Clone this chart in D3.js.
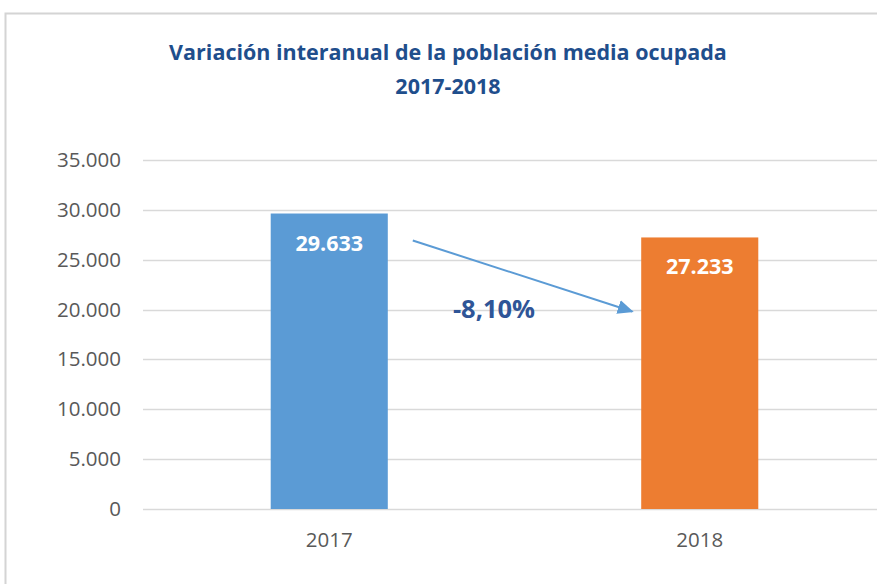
<!DOCTYPE html>
<html>
<head>
<meta charset="utf-8">
<script src="https://cdn.jsdelivr.net/npm/d3@7"></script>
<style>
  body { margin: 0; background: #fff; }
  svg { display: block; }
  text { font-family: "Open Sans", "Noto Sans", sans-serif; }
</style>
</head>
<body>
<div id="chart"></div>
<script>
const titleLines = ['Variación interanual de la población media ocupada', '2017-2018'];
const categories = ['2017', '2018'];
const values = [29633, 27233];
const barColors = ['#5B9BD5', '#ED7D31'];
const yTicks = [0, 5000, 10000, 15000, 20000, 25000, 30000, 35000];

const width = 877, height = 584;
const es = d3.formatLocale({decimal: ',', thousands: '.', grouping: [3], currency: ['', ' €'], minus: '-'});
const fmtNum = es.format(',d');
const fmtPct = es.format('.2%');

let svg = d3.select('#chart').append('svg')
    .attr('width', width)
    .attr('height', height);

// chart frame (only top + left visible in the crop)
svg.append('path')
    .attr('d', `M5.5,${height} V13.5 H${width}`)
    .attr('fill', 'none')
    .attr('stroke', '#d4d4d4')
    .attr('stroke-width', 2);

// title
svg.append('g').selectAll('text')
    .data(titleLines)
    .join('text')
    .attr('x', 448)
    .attr('y', (d, i) => 60 + i * 34)
    .attr('text-anchor', 'middle')
    .attr('font-size', 21.5)
    .attr('font-weight', 'bold')
    .attr('fill', '#1F4E8C')
    .text(d => d);

let x = d3.scaleBand()
    .domain(categories)
    .range([144, 885])
    .padding(0);
let y = d3.scaleLinear()
    .domain([0, 35000])
    .range([509, 160]);

const barW = x.bandwidth() * 0.316;

// gridlines
svg.append('g').selectAll('line')
    .data(yTicks)
    .join('line')
    .attr('x1', 143)
    .attr('x2', width)
    .attr('y1', d => Math.round(y(d)) + 0.5)
    .attr('y2', d => Math.round(y(d)) + 0.5)
    .attr('stroke', '#d9d9d9')
    .attr('stroke-width', 1.5);

// y axis labels
let yAxis = d3.axisLeft(y).tickValues(yTicks).tickFormat(d => fmtNum(d)).tickSize(0).tickPadding(0);
let gy = svg.append('g').attr('transform', 'translate(121,0)').call(yAxis);
gy.select('.domain').remove();
gy.selectAll('text')
    .attr('font-family', '"Open Sans", sans-serif')
    .attr('font-size', 20.5)
    .attr('fill', '#595959');

// x axis labels
let xAxis = d3.axisBottom(x).tickSize(0).tickPadding(0);
let gx = svg.append('g').attr('transform', 'translate(0,532)').call(xAxis);
gx.select('.domain').remove();
gx.selectAll('text')
    .attr('font-family', '"Open Sans", sans-serif')
    .attr('font-size', 20.5)
    .attr('fill', '#595959');

// bars
let cx = d => x(d) + x.bandwidth() / 2;
svg.append('g').selectAll('rect')
    .data(categories)
    .join('rect')
    .attr('x', d => cx(d) - barW / 2)
    .attr('y', (d, i) => y(values[i]))
    .attr('width', barW)
    .attr('height', (d, i) => y(0) - y(values[i]))
    .attr('fill', (d, i) => barColors[i]);

// value labels
svg.append('g').selectAll('text')
    .data(categories)
    .join('text')
    .attr('x', d => cx(d))
    .attr('y', (d, i) => y(values[i]) + 37)
    .attr('text-anchor', 'middle')
    .attr('font-size', 21.5)
    .attr('font-weight', 'bold')
    .attr('fill', '#fff')
    .text((d, i) => fmtNum(values[i]));

// change arrow
let defs = svg.append('defs');
defs.append('marker')
    .attr('id', 'arrowHead')
    .attr('viewBox', '0 0 10 10')
    .attr('refX', 9)
    .attr('refY', 5)
    .attr('markerWidth', 8)
    .attr('markerHeight', 8)
    .attr('markerUnits', 'strokeWidth')
    .attr('orient', 'auto')
    .append('path')
    .attr('d', 'M0,0.5 L10,5 L0,9.5 z')
    .attr('fill', '#5B9BD5');

let x0 = cx(categories[0]) + barW / 2 + 25;
let y0 = y(values[0]) + 27;
let x1 = cx(categories[1]) - barW / 2 - 9;
let y1 = y(values[1]) + 74;
svg.append('line')
    .attr('x1', x0).attr('y1', y0)
    .attr('x2', x1).attr('y2', y1)
    .attr('stroke', '#5B9BD5')
    .attr('stroke-width', 2)
    .attr('marker-end', 'url(#arrowHead)');

let change = values[1] / values[0] - 1;
svg.append('text')
    .attr('x', 494)
    .attr('y', 318)
    .attr('text-anchor', 'middle')
    .attr('font-size', 25.5)
    .attr('font-weight', 'bold')
    .attr('fill', '#2F5597')
    .text(fmtPct(change));
</script>
</body>
</html>
